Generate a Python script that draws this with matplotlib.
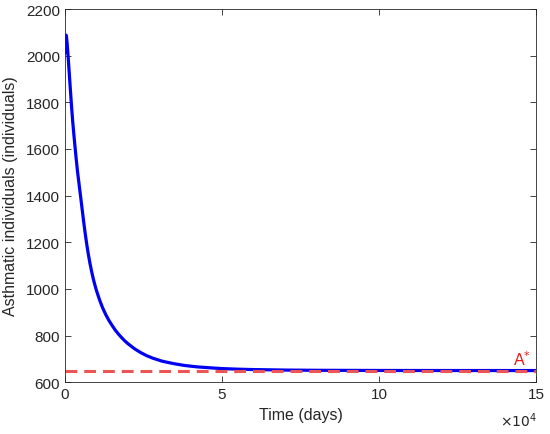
import matplotlib
matplotlib.use("Agg")
import matplotlib.pyplot as plt

# asthmatic class A(t) and its equilibrium A*
t_days = [0, 100, 200, 300, 400, 500, 700, 900, 1200, 1500, 1800, 2100, 2500,
          3000, 3500, 4000, 4500, 5000, 5500, 6000, 6500, 7000, 7500, 8000,
          8500, 9000, 9500, 10000, 11000, 12000, 13000, 14000, 15000, 16000,
          17000, 18000, 19000, 20000, 22000, 24000, 26000, 28000, 31000,
          34500, 38000, 42000, 46000, 50000, 55000, 60000, 70000, 80000,
          100000, 125000, 150000]
asthmatic = [2010, 2050, 2075, 2086, 2088, 2082, 2055, 2020, 1962, 1902, 1843,
             1785, 1715, 1640, 1570, 1505, 1450, 1396, 1340, 1285, 1234, 1187,
             1145, 1108, 1075, 1045, 1019, 995, 954, 919, 890, 865, 844, 824,
             807, 792, 778, 766, 745, 728, 714, 703, 690, 680, 672, 666, 662,
             658.5, 656, 654.3, 652.2, 651.2, 650.4, 650.15, 650.05]
a_star = 650
x_ticks = [0, 50000, 100000, 150000]
y_ticks = [600, 800, 1000, 1200, 1400, 1600, 1800, 2000, 2200]

plt.rcParams["font.family"] = ["Liberation Sans", "DejaVu Sans"]
plt.rcParams["lines.scale_dashes"] = False

fig = plt.figure(figsize=(5.5, 4.35), dpi=100)
ax = fig.add_axes([0.118, 0.119, 0.857, 0.858])

ax.plot(t_days, asthmatic, color=(0, 0, 0.95), lw=2.3, solid_capstyle="round",
        solid_joinstyle="round")
ax.plot([0, 150000], [a_star, a_star], color=(0.93, 0.33, 0.33), lw=2.2,
        dashes=(8.5, 5))
ax.text(148500, a_star + 12, r"A$^{*}$", color=(0.9, 0.1, 0.1), fontsize=11.5,
        ha="right", va="bottom")

ax.set_xlim(0, 150000)
ax.set_ylim(600, 2200)
ax.set_xticks(x_ticks)
ax.set_xticklabels([str(v // 10000) for v in x_ticks])
ax.set_yticks(y_ticks)
ax.tick_params(direction="in", top=True, right=True, labelsize=11,
               color="#262626", length=4, width=0.6, labelcolor="#262626")
for s in ax.spines.values():
    s.set_color("#262626")
    s.set_linewidth(0.6)

ax.set_xlabel("Time (days)", fontsize=11.5, color="#262626", labelpad=4)
ax.set_ylabel("Asthmatic individuals (individuals)", fontsize=11.5,
              color="#262626", labelpad=6)
fig.text(0.977, 0.018, r"$\times10^{4}$", fontsize=10, color="#262626",
         ha="right", va="baseline")

fig.savefig("out.png", dpi=100)
